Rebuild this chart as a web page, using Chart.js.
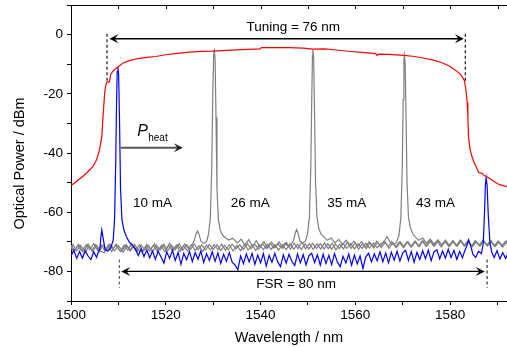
<!DOCTYPE html>
<html>
<head>
<meta charset="utf-8">
<script src="https://cdn.jsdelivr.net/npm/chart.js@4/dist/chart.umd.min.js"></script>
<style>
  body { margin: 0; background: #fff; }
  canvas { display: block; }
</style>
</head>
<body>
<canvas id="spectrum" width="507" height="347"></canvas>
<script>
// ASE envelope (red)
var redTrace = [
    [1500.0,-51.0],[1501.0,-49.8],[1502.4,-48.0],[1503.5,-46.4],[1504.6,-44.6],[1505.4,-42.3],[1506.0,-39.0],
    [1506.5,-34.5],[1506.7,-29.0],[1506.9,-24.4],[1507.1,-19.8],[1507.3,-17.3],[1507.6,-16.0],[1508.1,-16.0],
    [1508.4,-13.4],[1508.9,-12.3],[1509.8,-11.0],[1511.0,-9.6],[1512.3,-8.8],[1514.4,-8.0],[1516.0,-7.7],
    [1517.9,-7.4],[1520.0,-6.8],[1522.0,-6.4],[1525.0,-5.9],[1527.5,-5.7],[1529.8,-5.6],[1533.0,-5.3],
    [1536.0,-5.1],[1539.9,-4.8],[1540.2,-4.4],[1543.0,-4.4],[1546.0,-4.4],[1549.0,-4.6],[1551.0,-4.9],
    [1553.5,-4.8],[1556.0,-5.2],[1559.0,-5.7],[1562.0,-6.1],[1564.3,-6.4],[1564.6,-7.1],[1564.9,-6.6],
    [1567.0,-6.7],[1570.3,-7.0],[1572.5,-7.4],[1574.5,-8.0],[1576.5,-8.6],[1578.3,-9.5],[1580.0,-10.8],
    [1581.2,-12.1],[1582.3,-13.6],[1583.0,-15.5],[1583.35,-18.8],[1583.6,-23.0],[1583.75,-28.0],
    [1583.9,-35.0],[1584.2,-38.8],[1584.6,-41.2],[1585.1,-43.4],[1585.6,-45.0],[1586.0,-46.5],
    [1586.3,-46.7],[1586.85,-46.9],[1587.0,-47.4],[1587.9,-48.2],[1588.8,-49.1],[1589.6,-50.0],
    [1590.4,-50.7],[1591.2,-51.0],[1592.2,-51.4]
];

// 10 mA spectrum (blue)
var blueTrace = [
    [1500.0,-74.9],[1500.6,-72.8],[1501.2,-75.6],[1501.8,-73.3],[1502.4,-75.5],[1503.0,-73.0],[1503.6,-74.8],
    [1504.2,-76.0],[1504.8,-73.4],[1505.4,-75.3],[1505.8,-73.2],[1506.1,-72.4],[1506.3,-68.5],[1506.5,-66.0],
    [1506.8,-68.9],[1507.2,-72.6],[1507.8,-73.1],[1508.4,-72.0],[1508.9,-69.5],[1509.2,-62.0],[1509.45,-42.0],
    [1509.6,-24.0],[1509.75,-12.5],[1509.9,-11.0],[1510.05,-13.5],[1510.25,-30.0],[1510.45,-52.0],[1510.75,-62.5],
    [1511.2,-66.2],[1511.7,-68.3],[1512.3,-70.1],[1513.0,-71.4],
    [1513.6,-72.5],[1514.2,-74.6],[1514.8,-72.3],[1515.4,-75.0],[1516.0,-72.8],[1516.6,-75.4],[1517.2,-73.1],
    [1517.8,-75.9],[1518.4,-73.2],[1519.0,-75.1],[1519.6,-77.2],[1520.2,-73.4],[1520.8,-75.6],[1521.4,-72.9],
    [1522.0,-76.3],[1522.6,-73.6],[1523.2,-77.6],[1523.8,-73.9],[1524.4,-76.1],[1525.0,-73.2],[1525.6,-76.7],
    [1526.2,-73.6],[1526.8,-75.9],[1527.4,-73.1],[1528.0,-77.0],[1528.6,-74.0],[1529.2,-76.3],[1529.8,-73.4],
    [1530.4,-76.6],[1531.0,-73.7],[1531.6,-77.3],[1532.2,-74.2],[1532.8,-76.6],[1533.4,-73.6],[1534.0,-76.9],
    [1534.6,-77.8],[1535.2,-79.4],[1535.8,-74.8],[1536.4,-77.4],[1537.0,-74.1],[1537.6,-76.8],[1538.2,-73.9],
    [1538.8,-77.6],[1539.4,-74.5],[1540.0,-77.1],[1540.6,-74.0],[1541.2,-78.2],[1541.8,-74.6],[1542.4,-76.9],
    [1543.0,-73.9],[1543.6,-76.7],[1544.2,-78.4],[1544.8,-74.4],[1545.4,-77.2],[1546.0,-74.2],[1546.6,-76.6],
    [1547.2,-78.0],[1547.8,-74.1],[1548.4,-77.1],[1549.0,-74.3],[1549.6,-77.8],[1550.2,-74.7],[1550.8,-73.9],
    [1551.4,-77.0],[1552.0,-74.4],[1552.6,-77.9],[1553.2,-74.2],[1553.8,-77.3],[1554.4,-74.6],[1555.0,-77.7],
    [1555.6,-74.0],[1556.2,-76.8],[1556.8,-78.4],[1557.4,-74.9],[1558.0,-77.2],[1558.6,-74.1],[1559.2,-77.9],
    [1559.8,-74.5],[1560.4,-77.5],[1561.0,-74.8],[1561.6,-79.0],[1562.2,-75.1],[1562.8,-73.9],[1563.4,-76.8],
    [1564.0,-74.1],[1564.6,-76.4],[1565.2,-73.4],[1565.8,-76.7],[1566.4,-73.8],[1567.0,-77.1],[1567.6,-73.5],
    [1568.2,-76.2],[1568.8,-73.2],[1569.4,-76.5],[1570.0,-73.7],[1570.6,-72.9],[1571.2,-76.3],[1571.8,-73.3],
    [1572.4,-76.9],[1573.0,-73.6],[1573.6,-76.0],[1574.2,-73.0],[1574.8,-75.7],[1575.4,-72.8],[1576.0,-76.4],
    [1576.6,-73.4],[1577.2,-72.7],[1577.8,-75.8],[1578.4,-73.1],[1579.0,-75.5],[1579.6,-72.5],[1580.2,-75.3],
    [1580.8,-72.9],[1581.4,-75.9],[1582.0,-73.2],[1582.6,-75.4],[1583.1,-73.0],
    [1583.5,-71.5],[1583.9,-69.3],[1584.3,-71.2],[1584.8,-74.2],[1585.4,-75.3],[1586.0,-73.2],[1586.6,-74.0],
    [1587.0,-70.5],[1587.25,-60.0],[1587.45,-50.5],[1587.6,-48.4],[1587.8,-51.0],[1588.05,-61.0],[1588.4,-70.4],
    [1588.8,-73.6],[1589.3,-75.3],[1589.9,-73.0],[1590.5,-75.8],[1591.1,-73.7],[1591.7,-75.6],[1592.2,-74.0]
];

// 26 mA spectrum (grey)
var grayTrace26 = [
    [1500.0,-71.2],[1500.8,-72.9],[1501.6,-70.8],[1502.4,-73.0],[1503.2,-71.0],[1504.0,-72.7],[1504.8,-70.6],
    [1505.6,-72.8],[1506.4,-71.1],[1507.2,-73.1],[1508.0,-70.8],[1508.8,-72.6],[1509.6,-70.9],[1510.4,-73.2],
    [1511.2,-71.2],[1512.0,-72.8],[1512.8,-70.6],[1513.6,-72.9],[1514.4,-71.0],[1515.2,-73.2],[1516.0,-70.9],
    [1516.8,-72.6],[1517.6,-70.7],[1518.4,-72.9],[1519.2,-71.1],[1520.0,-72.7],[1520.8,-70.5],[1521.6,-72.9],
    [1522.4,-71.0],[1523.2,-72.5],[1524.0,-70.7],[1524.8,-72.3],[1525.6,-70.9],[1526.0,-69.6],[1526.4,-67.3],
    [1526.7,-66.3],[1527.0,-67.4],[1527.4,-69.7],[1528.0,-70.6],[1528.6,-69.9],[1529.0,-67.6],[1529.4,-62.0],
    [1529.7,-45.0],[1529.9,-22.0],[1530.1,-7.0],[1530.25,-5.6],[1530.4,-8.0],[1530.6,-28.0],[1530.8,-52.0],
    [1531.1,-62.5],[1531.5,-66.2],[1532.0,-67.8],[1532.6,-68.6],[1533.3,-69.4],[1534.1,-68.8],[1535.1,-70.4],
    [1535.9,-69.1],[1536.7,-71.1],[1537.5,-69.3],[1538.3,-71.5],[1539.1,-69.6],[1539.9,-71.8],[1540.7,-69.9],
    [1541.5,-72.1],[1542.3,-70.1],[1543.1,-71.9],[1543.9,-70.0],[1544.7,-72.2],[1545.5,-70.3],[1546.3,-72.5],
    [1547.1,-70.5],[1547.9,-72.3],[1548.7,-70.1],[1549.5,-72.4],[1550.3,-70.6],[1551.1,-72.6],[1551.9,-70.7],
    [1552.7,-72.5],[1553.5,-70.4],[1554.3,-72.3],[1555.1,-70.5],[1555.9,-72.7],[1556.7,-70.8],[1557.5,-72.4],
    [1558.3,-70.2],[1559.1,-72.2],[1559.9,-70.4],[1560.7,-72.5],[1561.5,-70.6],[1562.3,-72.3],[1563.1,-70.3],
    [1563.9,-72.1],[1564.7,-70.1],[1565.5,-72.0],[1566.3,-70.2],[1567.1,-72.2],[1567.9,-70.3],[1568.7,-71.9],
    [1569.5,-70.0],[1570.3,-71.8],[1571.1,-69.9],[1571.9,-71.7],[1572.7,-69.8],[1573.5,-71.6],[1574.3,-69.7],
    [1575.1,-71.5],[1575.9,-69.6],[1576.7,-71.4],[1577.5,-69.5],[1578.3,-71.3],[1579.1,-69.7],[1579.9,-71.6],
    [1580.7,-69.8],[1581.5,-71.5],[1582.3,-69.6],[1583.1,-71.4],[1583.9,-69.9],[1584.7,-71.7],[1585.5,-70.0],
    [1586.3,-71.5],[1587.1,-69.7],[1587.9,-71.4],[1588.7,-69.9],[1589.5,-71.6],[1590.3,-70.1],[1591.1,-71.8],
    [1591.9,-70.2],[1592.6,-71.6]
];

// 35 mA spectrum (grey)
var grayTrace35 = [
    [1500.0,-72.6],[1500.4,-70.9],[1501.2,-73.1],[1502.0,-71.2],[1502.8,-72.9],[1503.6,-70.7],[1504.4,-73.0],
    [1505.2,-71.0],[1506.0,-73.3],[1506.8,-71.1],[1507.6,-72.7],[1508.4,-70.8],[1509.2,-73.1],[1510.0,-71.3],
    [1510.8,-72.9],[1511.6,-70.9],[1512.4,-73.0],[1513.2,-71.2],[1514.0,-73.3],[1514.8,-71.0],[1515.6,-72.8],
    [1516.4,-71.3],[1517.2,-73.4],[1518.0,-71.1],[1518.8,-72.8],[1519.6,-70.8],[1520.4,-73.1],[1521.2,-71.2],
    [1522.0,-72.7],[1522.8,-70.6],[1523.6,-72.9],[1524.4,-71.0],[1525.2,-72.6],[1526.0,-70.8],[1526.8,-72.7],
    [1527.6,-71.1],[1528.4,-72.8],[1529.2,-70.9],[1530.0,-72.6],[1530.8,-71.0],[1531.6,-72.9],[1532.4,-71.2],
    [1533.2,-72.7],[1534.0,-70.8],[1534.8,-72.4],[1535.6,-71.0],[1536.4,-72.6],[1537.2,-70.7],[1538.0,-72.3],
    [1538.8,-70.9],[1539.6,-72.5],[1540.4,-70.6],[1541.2,-72.2],[1542.0,-70.5],[1542.8,-72.1],[1543.6,-70.6],
    [1544.4,-72.0],[1545.2,-70.4],[1546.0,-71.8],[1546.9,-69.8],[1547.3,-67.2],[1547.6,-65.9],[1547.9,-67.0],
    [1548.3,-69.7],[1548.9,-70.5],[1549.5,-69.6],[1549.9,-67.3],[1550.3,-62.0],[1550.6,-45.0],[1550.8,-22.0],
    [1550.95,-7.0],[1551.05,-5.1],[1551.2,-7.5],[1551.4,-27.0],[1551.6,-50.0],[1551.9,-61.5],[1552.3,-65.6],
    [1552.8,-67.5],[1553.4,-68.4],[1554.1,-69.5],[1554.9,-68.7],[1555.7,-70.4],[1556.5,-69.2],[1557.3,-71.0],
    [1558.1,-69.5],[1558.9,-71.3],[1559.7,-69.8],[1560.5,-71.6],[1561.3,-69.9],[1562.1,-71.8],[1562.9,-70.0],
    [1563.7,-71.7],[1564.5,-69.8],[1565.3,-71.5],[1566.1,-69.7],[1566.9,-71.6],[1567.7,-69.9],[1568.5,-71.8],
    [1569.3,-70.1],[1570.1,-71.9],[1570.9,-70.0],[1571.7,-71.7],[1572.5,-69.8],[1573.3,-71.6],[1574.1,-69.7],
    [1574.9,-71.5],[1575.7,-69.6],[1576.5,-71.4],[1577.3,-69.8],[1578.1,-71.7],[1578.9,-69.9],[1579.7,-71.6],
    [1580.5,-69.7],[1581.3,-71.4],[1582.1,-69.5],[1582.9,-71.3],[1583.7,-69.8],[1584.5,-71.5],[1585.3,-69.6],
    [1586.1,-71.2],[1586.9,-69.5],[1587.7,-71.1],[1588.5,-69.7],[1589.3,-71.4],[1590.1,-69.8],[1590.9,-71.5],
    [1591.7,-69.9],[1592.6,-71.3]
];

// 43 mA spectrum (grey)
var grayTrace43 = [
    [1500.0,-71.6],[1500.6,-73.4],[1501.4,-71.3],[1502.2,-73.0],[1503.0,-73.6],[1503.8,-71.4],[1504.6,-73.3],
    [1505.4,-71.2],[1506.2,-73.1],[1507.0,-73.7],[1507.8,-71.4],[1508.6,-73.3],[1509.4,-71.0],[1510.2,-72.9],
    [1511.0,-73.5],[1511.8,-71.3],[1512.6,-73.0],[1513.4,-70.9],[1514.2,-72.8],[1515.0,-73.5],[1515.8,-71.4],
    [1516.6,-73.1],[1517.4,-71.1],[1518.2,-73.3],[1519.0,-71.5],[1519.8,-73.4],[1520.6,-71.3],[1521.4,-73.0],
    [1522.2,-71.2],[1523.0,-73.3],[1523.8,-71.4],[1524.6,-73.1],[1525.4,-71.0],[1526.2,-72.9],[1527.0,-71.3],
    [1527.8,-73.2],[1528.6,-71.1],[1529.4,-72.8],[1530.2,-70.9],[1531.0,-72.7],[1531.8,-70.8],[1532.6,-72.9],
    [1533.4,-71.0],[1534.2,-73.1],[1535.0,-71.2],[1535.8,-73.0],[1536.6,-70.9],[1537.4,-72.8],[1538.2,-71.1],
    [1539.0,-72.9],[1539.8,-71.0],[1540.6,-72.7],[1541.4,-70.8],[1542.2,-72.6],[1543.0,-71.0],[1543.8,-72.8],
    [1544.6,-70.9],[1545.4,-72.7],[1546.2,-70.7],[1547.0,-72.5],[1547.8,-70.8],[1548.6,-72.6],[1549.4,-70.7],
    [1550.2,-72.4],[1551.0,-70.5],[1551.8,-72.3],[1552.6,-70.6],[1553.4,-72.4],[1554.2,-70.7],[1555.0,-72.5],
    [1555.8,-70.8],[1556.6,-72.3],[1557.4,-70.5],[1558.2,-72.2],[1559.0,-70.6],[1559.8,-72.4],[1560.6,-70.7],
    [1561.4,-72.3],[1562.2,-70.5],[1563.0,-72.1],[1563.8,-70.4],[1564.6,-72.0],[1565.5,-70.5],[1565.9,-70.3],
    [1566.3,-69.3],[1566.7,-68.3],[1567.1,-69.4],[1567.5,-70.6],[1568.1,-71.0],[1568.7,-70.2],[1569.2,-67.8],
    [1569.6,-62.0],[1569.9,-45.0],[1570.1,-22.0],[1570.25,-8.5],[1570.35,-7.0],[1570.5,-9.0],[1570.7,-28.0],
    [1570.9,-50.0],[1571.2,-61.5],[1571.6,-65.2],[1572.1,-67.2],[1572.7,-68.4],[1573.4,-69.5],[1574.2,-68.7],
    [1575.0,-70.4],[1575.8,-69.1],[1576.6,-70.8],[1577.4,-69.4],[1578.2,-71.0],[1579.0,-69.4],[1579.8,-71.2],
    [1580.6,-69.6],[1581.4,-71.3],[1582.2,-69.5],[1583.0,-71.4],[1583.8,-69.7],[1584.6,-71.5],[1585.4,-69.8],
    [1586.2,-71.3],[1587.0,-69.5],[1587.8,-71.2],[1588.6,-69.6],[1589.4,-71.4],[1590.2,-69.8],[1591.0,-71.3],
    [1591.8,-69.7],[1592.6,-71.1]
];

var currentLabels = ['10 mA', '26 mA', '35 mA', '43 mA'];
var xTickLabels = [1500, 1520, 1540, 1560, 1580];
var yTickLabels = [0, -20, -40, -60, -80];

// annotation placement, in axis units
var Notes = {
    fontFamily: '"Liberation Sans", Arial, sans-serif',
    tuningDash: [1507.6, 1583.2],
    tuningDashY: [0.3, -16.2],
    tuningArrow: { from: 1508.1, to: 1582.9, y: -1.4 },
    tuningText: { x: 1546.9, y: 2.6, text: 'Tuning = 76 nm' },
    fsrDash: [1510.2, 1587.8],
    fsrDashY: [-76.0, -85.5],
    fsrArrow: { from: 1510.6, to: 1587.3, y: -80.0 },
    fsrText: { x: 1547.5, y: -84.5, text: 'FSR = 80 nm' },
    heatArrow: { from: 1510.5, to: 1523.6, y: -38.2 },
    heatP: { x: 1514.0, y: -34.1 },
    heatSub: { x: 1516.3, y: -35.8 },
    currentX: [1517.2, 1537.8, 1558.2, 1576.9],
    currentY: -56.9
};

var Drawing = {
    arrowHead: function(ctx, x, y, dir, size) {
        ctx.beginPath();
        ctx.moveTo(x, y);
        ctx.lineTo(x - dir * size, y - size * 0.5);
        ctx.lineTo(x - dir * size * 0.6, y);
        ctx.lineTo(x - dir * size, y + size * 0.5);
        ctx.closePath();
        ctx.fill();
    },

    doubleArrow: function(ctx, x1, x2, y, color) {
        ctx.strokeStyle = color;
        ctx.fillStyle = color;
        ctx.lineWidth = 1.4;
        ctx.setLineDash([]);
        ctx.beginPath();
        ctx.moveTo(x1 + 4, y);
        ctx.lineTo(x2 - 4, y);
        ctx.stroke();
        Drawing.arrowHead(ctx, x1, y, -1, 9);
        Drawing.arrowHead(ctx, x2, y, 1, 9);
    },

    dashed: function(ctx, x, y1, y2, color) {
        ctx.strokeStyle = color;
        ctx.lineWidth = 1.1;
        ctx.setLineDash([3, 2.5]);
        ctx.beginPath();
        ctx.moveTo(x, y1);
        ctx.lineTo(x, y2);
        ctx.stroke();
        ctx.setLineDash([]);
    }
};

var overlayPlugin = {
    id: 'overlay',
    afterDraw: function(chart) {
        var ctx = chart.ctx;
        var xs = chart.scales.x;
        var ys = chart.scales.y;
        var area = chart.chartArea;
        var font = Notes.fontFamily;
        var i;

        ctx.save();

        // top frame with inward ticks
        ctx.strokeStyle = '#000';
        ctx.lineWidth = 1;
        ctx.beginPath();
        ctx.moveTo(area.left, area.top + 0.5);
        ctx.lineTo(area.right, area.top + 0.5);
        for (i = 1510; i <= 1590; i += 10) {
            var tx = Math.round(xs.getPixelForValue(i)) + 0.5;
            ctx.moveTo(tx, area.top);
            ctx.lineTo(tx, area.top + 4);
        }
        ctx.stroke();

        // tuning range
        for (i = 0; i < Notes.tuningDash.length; ++i) {
            Drawing.dashed(ctx, xs.getPixelForValue(Notes.tuningDash[i]),
                ys.getPixelForValue(Notes.tuningDashY[0]), ys.getPixelForValue(Notes.tuningDashY[1]), '#000');
        }
        Drawing.doubleArrow(ctx, xs.getPixelForValue(Notes.tuningArrow.from),
            xs.getPixelForValue(Notes.tuningArrow.to), ys.getPixelForValue(Notes.tuningArrow.y), '#000');

        // free spectral range
        for (i = 0; i < Notes.fsrDash.length; ++i) {
            Drawing.dashed(ctx, xs.getPixelForValue(Notes.fsrDash[i]),
                ys.getPixelForValue(Notes.fsrDashY[0]), ys.getPixelForValue(Notes.fsrDashY[1]), i === 0 ? '#555' : '#222');
        }
        Drawing.doubleArrow(ctx, xs.getPixelForValue(Notes.fsrArrow.from),
            xs.getPixelForValue(Notes.fsrArrow.to), ys.getPixelForValue(Notes.fsrArrow.y), '#000');

        // P_heat arrow
        var hy = ys.getPixelForValue(Notes.heatArrow.y);
        var hx1 = xs.getPixelForValue(Notes.heatArrow.from);
        var hx2 = xs.getPixelForValue(Notes.heatArrow.to);
        ctx.strokeStyle = '#555';
        ctx.fillStyle = '#222';
        ctx.lineWidth = 2;
        ctx.beginPath();
        ctx.moveTo(hx1, hy);
        ctx.lineTo(hx2 - 4, hy);
        ctx.stroke();
        Drawing.arrowHead(ctx, hx2, hy, 1, 9);

        // texts
        ctx.fillStyle = '#000';
        ctx.textAlign = 'center';
        ctx.textBaseline = 'middle';
        ctx.font = '13.5px ' + font;
        ctx.fillText(Notes.tuningText.text, xs.getPixelForValue(Notes.tuningText.x), ys.getPixelForValue(Notes.tuningText.y));
        ctx.fillText(Notes.fsrText.text, xs.getPixelForValue(Notes.fsrText.x), ys.getPixelForValue(Notes.fsrText.y));
        for (i = 0; i < currentLabels.length; ++i) {
            ctx.fillText(currentLabels[i], xs.getPixelForValue(Notes.currentX[i]), ys.getPixelForValue(Notes.currentY));
        }

        ctx.textAlign = 'left';
        ctx.textBaseline = 'alphabetic';
        ctx.font = 'italic 16px ' + font;
        ctx.fillText('P', xs.getPixelForValue(Notes.heatP.x), ys.getPixelForValue(Notes.heatP.y));
        ctx.font = '10px ' + font;
        ctx.fillText('heat', xs.getPixelForValue(Notes.heatSub.x), ys.getPixelForValue(Notes.heatSub.y));

        // y axis title
        ctx.save();
        ctx.translate(20, (area.top + area.bottom) / 2 + 10.5);
        ctx.rotate(-Math.PI / 2);
        ctx.textAlign = 'center';
        ctx.textBaseline = 'middle';
        ctx.font = '14.5px ' + font;
        ctx.fillText('Optical Power / dBm', 0, 0);
        ctx.restore();

        ctx.restore();
    }
};

function toPoints(trace) {
    return trace.map(function(p) { return { x: p[0], y: p[1] }; });
}

function lineSet(trace, color, width, order) {
    return {
        data: toPoints(trace),
        showLine: true,
        borderColor: color,
        borderWidth: width,
        pointRadius: 0,
        tension: 0,
        order: order
    };
}

var tickFont = { family: Notes.fontFamily, size: 13.5 };

new Chart(document.getElementById('spectrum'), {
    type: 'scatter',
    data: {
        datasets: [
            lineSet(redTrace, '#ff0000', 1.2, 0),
            lineSet(blueTrace, '#0000ff', 1.2, 1),
            lineSet(grayTrace26, '#808080', 1.2, 2),
            lineSet(grayTrace35, '#808080', 1.2, 3),
            lineSet(grayTrace43, '#808080', 1.2, 4)
        ]
    },
    options: {
        responsive: false,
        animation: false,
        events: [],
        layout: { padding: { left: 0, right: 0, top: 5, bottom: 0 } },
        plugins: { legend: { display: false }, tooltip: { enabled: false } },
        scales: {
            x: {
                type: 'linear',
                min: 1500,
                max: 1592,
                grid: { drawOnChartArea: false, tickLength: 4, color: '#000' },
                border: { color: '#000', width: 1 },
                ticks: {
                    stepSize: 10,
                    includeBounds: false,
                    maxRotation: 0,
                    autoSkip: false,
                    padding: 2,
                    color: '#000',
                    font: tickFont,
                    callback: function(v) { return xTickLabels.indexOf(v) >= 0 ? String(v) : ''; }
                },
                title: {
                    display: true,
                    text: 'Wavelength / nm',
                    color: '#000',
                    font: { family: Notes.fontFamily, size: 14.5 },
                    padding: { top: 0, bottom: 0 }
                },
                afterFit: function(scale) {
                    scale.height = 46;
                    scale.paddingLeft = 0;
                    scale.paddingRight = 0;
                }
            },
            y: {
                min: -90,
                max: 10,
                grid: { drawOnChartArea: false, tickLength: 4, color: '#000' },
                border: { color: '#000', width: 1 },
                ticks: {
                    stepSize: 10,
                    autoSkip: false,
                    padding: 4,
                    color: '#000',
                    font: tickFont,
                    callback: function(v) { return yTickLabels.indexOf(v) >= 0 ? String(v) : ''; }
                },
                afterFit: function(scale) {
                    scale.width = 71;
                    scale.paddingTop = 0;
                    scale.paddingBottom = 0;
                }
            }
        }
    },
    plugins: [overlayPlugin]
});
</script>
</body>
</html>
